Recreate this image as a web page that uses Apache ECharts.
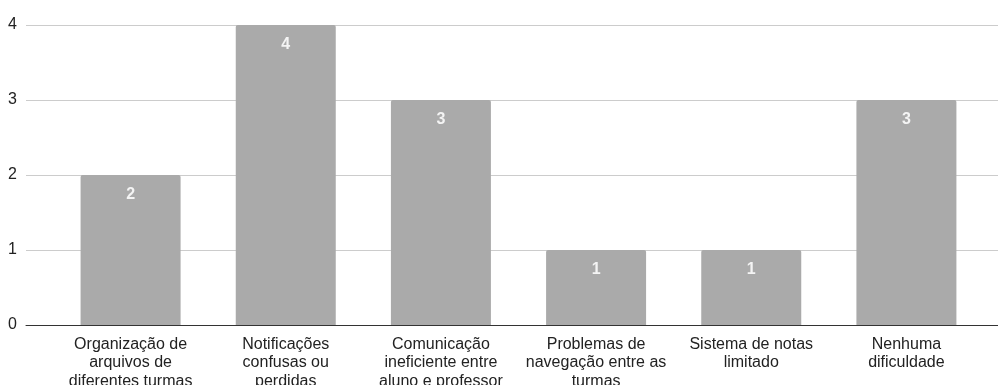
<!DOCTYPE html>
<html>
<head>
<meta charset="utf-8">
<script src="https://cdn.jsdelivr.net/npm/echarts@6/dist/echarts.min.js"></script>
<style>
  html, body { margin: 0; padding: 0; background: #fff; }
  #chart { width: 998px; height: 385px; }
</style>
</head>
<body>
<div id="chart"></div>
<script>
// Difficulties reported, one bar per category
const categories = [
  'Organização de\narquivos de\ndiferentes turmas',
  'Notificações\nconfusas ou\nperdidas',
  'Comunicação\nineficiente entre\naluno e professor',
  'Problemas de\nnavegação entre as\nturmas',
  'Sistema de notas\nlimitado',
  'Nenhuma\ndificuldade'
];
const counts = [2, 4, 3, 1, 1, 3];
const yTicks = [0, 1, 2, 3, 4];

const FONT = '"Liberation Sans", Arial, sans-serif';
const chart = echarts.init(document.getElementById('chart'), null, { renderer: 'canvas' });

chart.setOption({
  animation: false,
  backgroundColor: '#ffffff',
  textStyle: { fontFamily: FONT },
  grid: [
    // full-width frame: gridlines, y labels and baseline
    { left: 26, right: 0, top: 25, bottom: 60, containLabel: false, outerBoundsMode: 'none' },
    // inner band where the bars sit
    { left: 53, right: 14, top: 25, bottom: 60, containLabel: false, outerBoundsMode: 'none' }
  ],
  xAxis: [
    {
      gridIndex: 0, type: 'value', min: 0, max: 1,
      axisLine: { show: true, onZero: false, lineStyle: { color: '#333333', width: 1 } },
      axisTick: { show: false }, axisLabel: { show: false }, splitLine: { show: false }
    },
    {
      gridIndex: 1, type: 'category', data: categories,
      axisLine: { show: false }, axisTick: { show: false },
      axisLabel: {
        interval: 0, color: '#222222', fontSize: 16, lineHeight: 18.5,
        margin: 10, fontFamily: FONT, align: 'center'
      }
    }
  ],
  yAxis: [
    {
      gridIndex: 0, type: 'value', min: yTicks[0], max: yTicks[yTicks.length - 1], interval: 1,
      axisLine: { show: false }, axisTick: { show: false },
      axisLabel: { color: '#222222', fontSize: 16, margin: 9, fontFamily: FONT },
      splitLine: { lineStyle: { color: '#cccccc', width: 1 } }
    },
    {
      gridIndex: 1, type: 'value', min: yTicks[0], max: yTicks[yTicks.length - 1], interval: 1,
      axisLine: { show: false }, axisTick: { show: false },
      axisLabel: { show: false }, splitLine: { show: false }
    }
  ],
  series: [{
    type: 'bar',
    xAxisIndex: 1, yAxisIndex: 1,
    data: counts,
    barWidth: 100,
    itemStyle: { color: '#aaaaaa', borderRadius: [2, 2, 0, 0] },
    label: {
      show: true, position: 'insideTop', distance: 12,
      color: '#f4f4f4', fontWeight: 'bold', fontSize: 16, fontFamily: FONT
    }
  }]
});
</script>
</body>
</html>
